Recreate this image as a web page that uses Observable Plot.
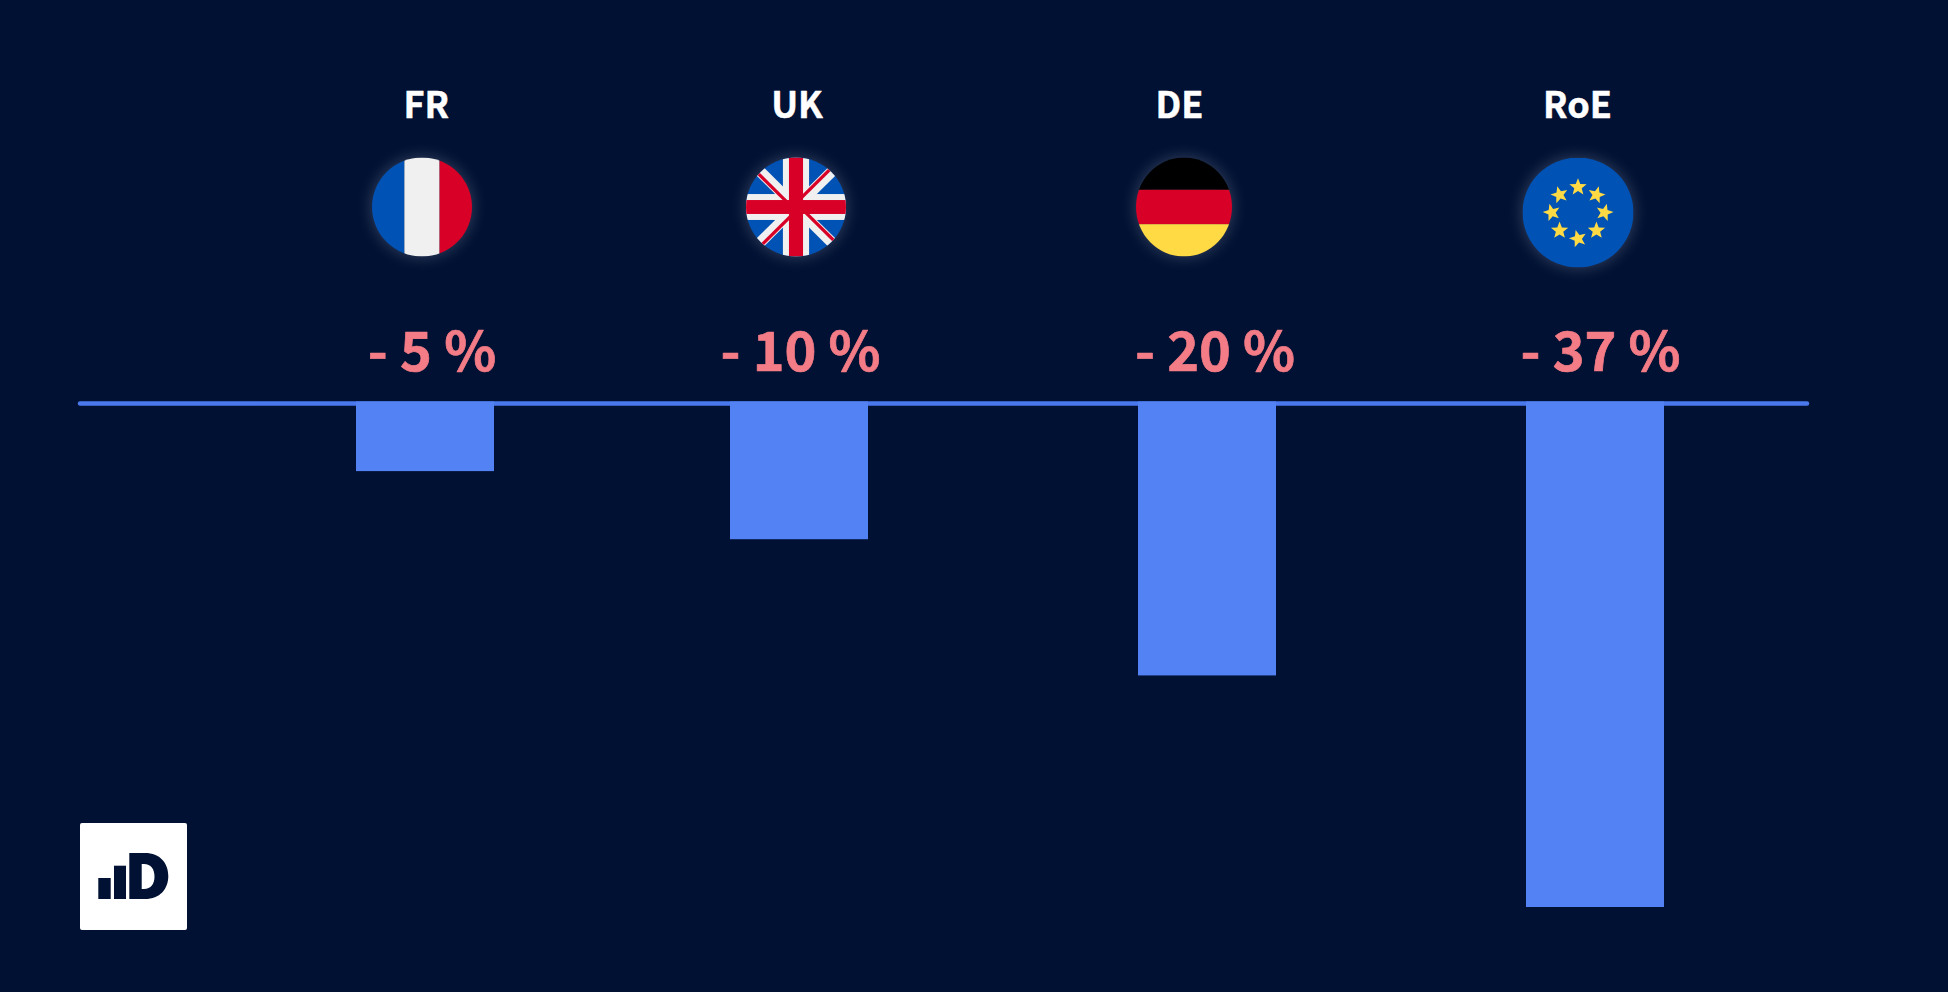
<!DOCTYPE html>
<html>
<head>
<meta charset="utf-8">
<script src="https://cdn.jsdelivr.net/npm/d3@7"></script>
<script src="https://cdn.jsdelivr.net/npm/@observablehq/plot@0.6"></script>
<style>
html,body{margin:0;padding:0;background:#001133;overflow:hidden}
</style>
</head>
<body>
<div id="chart"></div>
<script>
const categories = ["FR", "UK", "DE", "RoE"];
const values = [-5, -10, -20, -37];
const valueLabels = ["- 5 %", "- 10 %", "- 20 %", "- 37 %"];

// Layout only: offsets of each layer from the regular band centres
const offsets = {
  bar:  {FR: 0,    UK: -16,   DE: 2,     RoE: 0},
  name: {FR: 0.8,  UK: -18.5, DE: -26,   RoE: -18},
  flag: {FR: -3.5, UK: -19.5, DE: -21.5, RoE: -17.5},
  pct:  {FR: 6.5,  UK: -15,   DE: 9.5,   RoE: 5}
};
const flagBox = {
  FR: {w: 100, h: 99, cy: 206.5},
  UK: {w: 100, h: 99, cy: 206.5},
  DE: {w: 96, h: 99, cy: 206.5},
  RoE: {w: 111, h: 110, cy: 212}
};

const W = "#F0F0F0", R = "#D80027", B = "#0052B4", Y = "#FFDA44";
const svgURI = s => "data:image/svg+xml;utf8," + encodeURIComponent(
  `<svg xmlns="http://www.w3.org/2000/svg" viewBox="0 0 512 512" width="512" height="512" preserveAspectRatio="none">${s}</svg>`);
const clipDef = `<defs><clipPath id="c"><circle cx="256" cy="256" r="256"/></clipPath></defs>`;
const ukDiag = [-45, 45, 135, 225].map(a =>
  `<g transform="rotate(${a} 256 256)"><rect x="228" y="-10" width="56" height="266" fill="${W}"/><rect x="233" y="-10" width="17" height="230" fill="${R}"/></g>`).join("");
const star = (cx, cy, rot) => {
  const pts = d3.range(10).map(i => {
    const r = i % 2 ? 18 : 42, t = (i * 36 + rot - 90) * Math.PI / 180;
    return `${cx + r * Math.cos(t)},${cy + r * Math.sin(t)}`;
  }).join(" ");
  return `<polygon points="${pts}" fill="${Y}"/>`;
};
const euStars = [[256,138,0],[341,174,15],[378,256,15],[341,340,0],[256,378,-15],[171,340,0],[135,256,-15],[171,174,-15]]
  .map(s => star(...s)).join("");
const flags = {
  FR: svgURI(`${clipDef}<g clip-path="url(#c)"><rect width="166" height="512" fill="${B}"/><rect x="166" width="180" height="512" fill="${W}"/><rect x="346" width="166" height="512" fill="${R}"/></g>`),
  UK: svgURI(`${clipDef}<g clip-path="url(#c)"><rect width="512" height="512" fill="${B}"/><rect x="189" width="134" height="512" fill="${W}"/><rect y="189" width="512" height="134" fill="${W}"/>${ukDiag}<rect x="220" width="72" height="512" fill="${R}"/><rect y="220" width="512" height="72" fill="${R}"/></g>`),
  DE: svgURI(`${clipDef}<g clip-path="url(#c)"><rect width="512" height="167" fill="#000"/><rect y="167" width="512" height="178" fill="${R}"/><rect y="345" width="512" height="167" fill="${Y}"/></g>`),
  RoE: svgURI(`<circle cx="256" cy="256" r="256" fill="${B}"/>${euStars}`)
};
const logo = "data:image/svg+xml;utf8," + encodeURIComponent(
  `<svg xmlns="http://www.w3.org/2000/svg" viewBox="0 0 107 107" width="107" height="107"><rect width="107" height="107" rx="2" fill="#fff"/><g fill="#001133"><rect x="18.3" y="55" width="12.4" height="21"/><rect x="34" y="42.7" width="12" height="33.3"/><path fill-rule="evenodd" d="M49.3 30H65C80 30 88.3 40 88.3 53S80 76 65 76H49.3ZM61.7 41V66H64C71 66 74.5 61 74.5 53.5S71 41 64 41Z"/></g></svg>`);

const rows = categories.map((c, i) => ({category: c, value: values[i], label: valueLabels[i]}));
const font = "'Noto Sans CJK SC','Noto Sans',sans-serif";
const glow = "drop-shadow(0 0 8px rgba(255,255,255,.22))";

const marks = [
  Plot.ruleY([0], {insetLeft: 80, insetRight: 141, stroke: "#4A79EE", strokeWidth: 4.5, strokeLinecap: "round"})
];
for (const r of rows) {
  const one = [r], c = r.category, box = flagBox[c];
  marks.push(
    Plot.barY(one, {x: "category", y: "value", fill: "#5282F3", dx: offsets.bar[c], insetTop: -1.5}),
    Plot.text(one, {x: "category", text: "category", frameAnchor: "top", dx: offsets.name[c], dy: 105.5,
      fill: "#fff", stroke: "#fff", strokeWidth: 0.5, fontFamily: font, fontWeight: 700, fontSize: 36, lineAnchor: "middle"}),
    Plot.image(one, {x: "category", frameAnchor: "top", dx: offsets.flag[c], dy: box.cy,
      src: flags[c], width: box.w, height: box.h, preserveAspectRatio: "none", imageFilter: glow}),
    Plot.text(one, {x: "category", text: "label", frameAnchor: "top", dx: offsets.pct[c], dy: 353,
      fill: "#F47C87", stroke: "#F47C87", strokeWidth: 0.7, fontFamily: font, fontWeight: 700, fontSize: 54, lineAnchor: "middle"})
  );
}
marks.push(Plot.image([0], {frameAnchor: "top-left", dx: 133, dy: 876, src: logo, width: 107, height: 107}));

const plot = Plot.plot({
  width: 1948, height: 992,
  marginTop: 0, marginRight: 0, marginBottom: 0, marginLeft: 0,
  style: {background: "#001133", display: "block"},
  x: {type: "band", domain: categories, range: [356, 1664], paddingInner: 0.6462, paddingOuter: 0, axis: null},
  y: {domain: [0, -37], range: [403, 907], axis: null},
  marks
});
document.getElementById("chart").append(plot);
</script>
</body>
</html>
